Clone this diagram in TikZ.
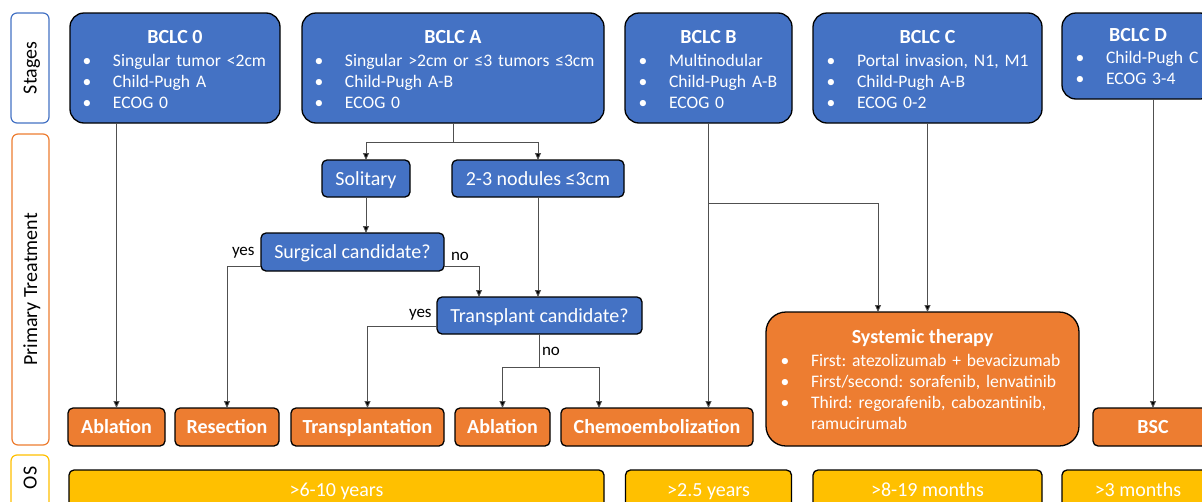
\documentclass[tikz,border=0pt]{standalone}
\usepackage{fontspec}
\setmainfont{Carlito}
\usetikzlibrary{arrows.meta,calc}
\definecolor{cblue}{HTML}{4472C4}
\definecolor{corange}{HTML}{ED7D31}
\definecolor{cyellow}{HTML}{FFC000}
\definecolor{cline}{HTML}{505050}
\newcommand\bul{\makebox[26pt][l]{\makebox[0pt][c]{•}}}
\frenchspacing
\begin{document}
\begin{tikzpicture}[x=1pt,y=-1pt,
  every node/.style={inner sep=0pt, outer sep=0pt},
  stagebox/.style={draw=black, line width=1.3pt, fill=cblue, rounded corners=14pt},
  qbox/.style={draw=black, line width=1.3pt, fill=cblue, rounded corners=5pt, text=white,
    font=\fontsize{20}{24}\selectfont, text height=15pt, text depth=1.5pt},
  tbox/.style={draw=black, line width=1.3pt, fill=corange, rounded corners=5pt, text=white,
    font=\bfseries\fontsize{20}{24}\selectfont, text height=15pt, text depth=1.5pt},
  sysbox/.style={draw=black, line width=1.3pt, fill=corange, rounded corners=20pt},
  osbox/.style={draw=black, line width=1.3pt, fill=cyellow, rounded corners=5pt},
  ostext/.style={text=white, font=\fontsize{20}{24}\selectfont, anchor=base},
  ttl/.style={text=white, font=\bfseries\fontsize{20}{24}\selectfont, anchor=base},
  blist/.style={text=white, font=\fontsize{17.6}{21}\selectfont, anchor=base west, align=left, text width=330pt},
  side/.style={line width=1.2pt, fill=white, rounded corners=6pt, rotate=90,
    font=\fontsize{20}{24}\selectfont, text height=13pt, text depth=0pt},
  conn/.style={draw=cline, line width=0.9pt},
  arr/.style={conn, -{Triangle[length=7pt,width=6pt,fill=black]}},
  lab/.style={font=\fontsize{17}{20}\selectfont, anchor=base west}
]
\useasboundingbox (0,0) rectangle (1202,501);
\clip (0,0) rectangle (1202,501);

% side labels
\node[side, draw=cblue, minimum width=110, minimum height=38] (lst) at (30,68) {Stages};
\node[side, draw=corange, minimum width=311, minimum height=37] (lpt) at (30.5,289.5) {Primary Treatment};
\node[side, draw=cyellow, minimum width=70, minimum height=38] (los) at (30,490) {};
\node[side, draw=none, fill=none] (lost) at (30,478) {OS};

% stage boxes
\node[stagebox, minimum width=210, minimum height=110] (b0) at (175,68) {};
\node[ttl] (b0t) at (175,43.5) {BCLC 0};
\node[blist] (b0l) at (87,66) {\bul Singular tumor <2cm\\\bul Child-Pugh A\\\bul ECOG 0};

\node[stagebox, minimum width=302, minimum height=110] (bA) at (453,68) {};
\node[ttl] (bAt) at (453,43.5) {BCLC A};
\node[blist] (bAl) at (319,66) {\bul Singular >2cm or ≤3 tumors ≤3cm\\\bul Child-Pugh A-B\\\bul ECOG 0};

\node[stagebox, minimum width=167, minimum height=110] (bB) at (708.5,68) {};
\node[ttl] (bBt) at (708.5,43.5) {BCLC B};
\node[blist] (bBl) at (643,66) {\bul Multinodular\\\bul Child-Pugh A-B\\\bul ECOG 0};

\node[stagebox, minimum width=229, minimum height=110] (bC) at (927.5,68) {};
\node[ttl] (bCt) at (927.5,43.5) {BCLC C};
\node[blist] (bCl) at (831,66) {\bul Portal invasion, N1, M1\\\bul Child-Pugh A-B\\\bul ECOG 0-2};

\node[stagebox, minimum width=152, minimum height=86] (bD) at (1138,56) {};
\node[ttl] (bDt) at (1138,41) {BCLC D};
\node[blist] (bDl) at (1080,63) {\bul Child-Pugh C\\\bul ECOG 3-4};

% decision boxes
\node[qbox, minimum width=88, minimum height=37] (sol) at (366,178.5) {Solitary};
\node[qbox, minimum width=172, minimum height=37] (nod) at (538,178.5) {2-3 nodules ≤3cm};
\node[qbox, minimum width=183, minimum height=38] (surg) at (352.5,252) {Surgical candidate?};
\node[qbox, minimum width=205, minimum height=37] (trans) at (539.5,315.5) {Transplant candidate?};

% treatment boxes
\node[tbox, minimum width=97, minimum height=38] (abl1) at (116.5,427) {Ablation};
\node[tbox, minimum width=104, minimum height=38] (res) at (227,427) {Resection};
\node[tbox, minimum width=153, minimum height=38] (tpl) at (367.5,427) {Transplantation};
\node[tbox, minimum width=95, minimum height=38] (abl2) at (502.5,427) {Ablation};
\node[tbox, minimum width=192, minimum height=38] (chemo) at (657,427) {Chemoembolization};
\node[tbox, minimum width=120, minimum height=38] (bsc) at (1153,427) {BSC};

\node[sysbox, minimum width=313, minimum height=134] (sys) at (922.5,379) {};
\node[ttl] (syst) at (922.5,343) {Systemic therapy};
\node[blist] (sysl) at (785,366) {\bul First: atezolizumab + bevacizumab\\\bul First/second: sorafenib, lenvatinib\\\bul Third: regorafenib, cabozantinib,\\\hspace*{26pt}ramucirumab};

% OS boxes
\node[osbox, minimum width=535, minimum height=50] (os1) at (336.5,495) {};
\node[ostext] (os1t) at (336.5,496) {>6-10 years};
\node[osbox, minimum width=166, minimum height=50] (os2) at (708.5,495) {};
\node[ostext] (os2t) at (708.5,496) {>2.5 years};
\node[osbox, minimum width=229, minimum height=50] (os3) at (927.5,495) {};
\node[ostext] (os3t) at (927.5,496) {>8-19 months};
\node[osbox, minimum width=152, minimum height=50] (os4) at (1138,495) {};
\node[ostext] (os4t) at (1138,496) {>3 months};

% connectors
\draw[arr] (abl1.north |- b0.south) -- (abl1.north);

\coordinate (aj) at ($(bA.south)+(0,19)$);
\draw[conn] (bA.south) -- (aj);
\draw[arr] (aj) -| (sol.north);
\draw[arr] (aj) -| (nod.north);

\draw[arr] (sol.south) -- (sol.south |- surg.north);
\draw[arr] (nod.south) -- (nod.south |- trans.north);

\draw[arr] ($(surg.south east)+(0,-5)$) -| ($(trans.north west)+(42,0)$);
\draw[arr] ($(surg.south west)+(0,-5)$) -| (res.north);
\draw[arr] ($(trans.south west)+(0,-8)$) -| (tpl.north);

\coordinate (tn) at ($(trans.south)+(0,33)$);
\draw[conn] (trans.south) -- (tn);
\draw[arr] (tn) -| (abl2.north);
\draw[arr] (tn) -| ($(chemo.north west)+(38,0)$);

\draw[arr] (bB.south) -- (bB.south |- chemo.north);
\coordinate (bj) at ($(bB.south)+(0,80)$);
\draw[arr] (bj) -| ($(sys.north west)+(112,0)$);
\draw[arr] (bC.south) -- (bC.south |- sys.north);
\draw[arr] (bsc.north |- bD.south) -- (bsc.north);

% yes / no labels
\node[lab] (ly1) at (232,255) {yes};
\node[lab] (ln1) at (451,260) {no};
\node[lab] (ly2) at (409,317) {yes};
\node[lab] (ln2) at (542,355) {no};
\end{tikzpicture}
\end{document}
